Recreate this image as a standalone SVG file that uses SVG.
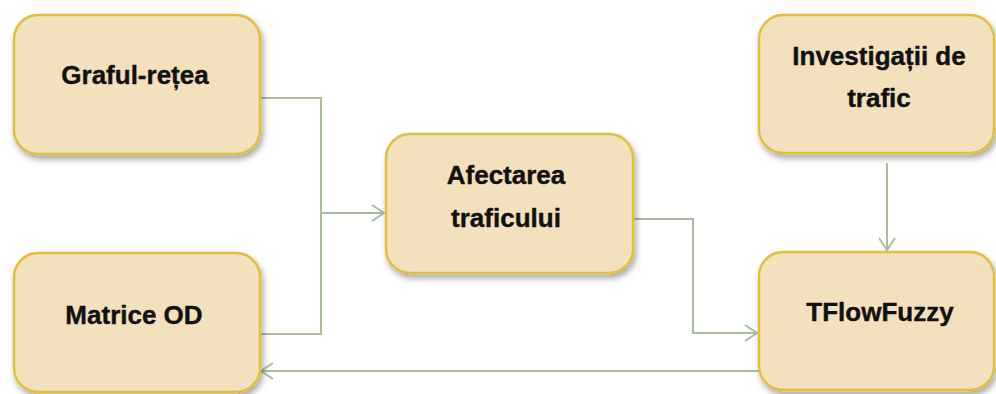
<svg xmlns="http://www.w3.org/2000/svg" width="996" height="394" viewBox="0 0 996 394">
<style>
.box{fill:#F3E1BD;stroke:#E2BE3E;stroke-width:2.5;filter:url(#sh)}
.lbl{font-family:"Liberation Sans",Arial,sans-serif;font-weight:bold;font-size:26px;fill:#111;stroke:#111;stroke-width:0.4;text-anchor:middle}
.con{fill:none;stroke:#A9BE9C;stroke-width:2}
</style>
<defs>
<filter id="sh" x="-10%" y="-10%" width="125%" height="130%">
<feDropShadow dx="2" dy="4" stdDeviation="3" flood-color="#000" flood-opacity="0.35"/>
</filter>
<marker id="ah" viewBox="0 0 14 18" refX="13" refY="9" markerWidth="14" markerHeight="18" markerUnits="userSpaceOnUse" orient="auto">
<path d="M1,1 L13,9 L1,17" fill="none" stroke="#A9BE9C" stroke-width="2"/>
</marker>
</defs>
<rect width="996" height="394" fill="#fff"/>
<g id="connectors">
<polyline class="con" points="260,98 321,98 321,334 260,334"/>
<line class="con" x1="321" y1="213" x2="384" y2="213" marker-end="url(#ah)"/>
<polyline class="con" points="633,219 693,219 693,333 757,333" marker-end="url(#ah)"/>
<line class="con" x1="887" y1="163" x2="887" y2="250" marker-end="url(#ah)"/>
<line class="con" x1="759" y1="371" x2="261" y2="371" marker-end="url(#ah)"/>
</g>
<g id="n1"><rect class="box" x="14" y="15" width="246" height="139" rx="24"/><text class="lbl" x="135" y="84">Graful-rețea</text></g>
<g id="n2"><rect class="box" x="14" y="253" width="246" height="139" rx="24"/><text class="lbl" x="134" y="324">Matrice OD</text></g>
<g id="n3"><rect class="box" x="386" y="134" width="247" height="139" rx="24"/><text class="lbl" x="506" y="184">Afectarea</text><text class="lbl" x="506" y="227">traficului</text></g>
<g id="n4"><rect class="box" x="759" y="15" width="235" height="138" rx="24"/><text class="lbl" x="879" y="65">Investigații de</text><text class="lbl" x="879" y="107">trafic</text></g>
<g id="n5"><rect class="box" x="759" y="252" width="235" height="138" rx="24"/><text class="lbl" x="880" y="321">TFlowFuzzy</text></g>
</svg>
